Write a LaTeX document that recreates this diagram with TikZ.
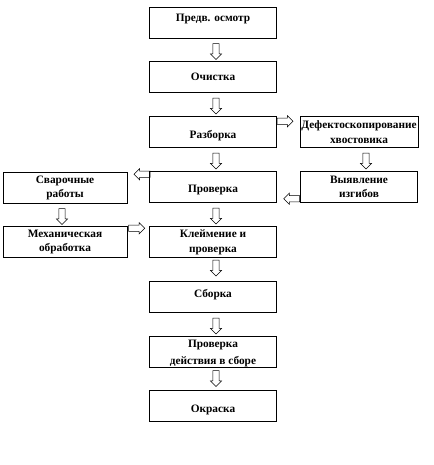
\documentclass[tikz,border=0pt]{standalone}
\usepackage{fontspec}
\setmainfont{Liberation Serif}
\usetikzlibrary{shapes.arrows,calc}

\newcommand{\nudge}[2]{\raisebox{#1}[\height][\depth]{#2}}

\tikzset{
  box/.style={draw, line width=0.6pt, minimum width=95pt, minimum height=23pt,
    inner sep=1pt, align=center, font=\bfseries\fontsize{8.5}{11}\selectfont},
  sidebox/.style={box, minimum width=93pt},
  harrow/.style={draw, single arrow, line width=0.4pt, inner sep=2.1pt,
    minimum height=12pt, single arrow head extend=1.9pt},
  rarrow/.style={harrow, anchor=tail},
  larrow/.style={harrow, rotate=180, anchor=tail},
  darrow/.style={harrow, rotate=-90}
}

\begin{document}
\begin{tikzpicture}[x=0.75pt, y=-0.75pt]
    \useasboundingbox (0,0) rectangle (433,465);
    % main column
    \node[box] (predv)  at (213,23)  {\nudge{3pt}{Предв. осмотр}};
    \node[box] (ochist) at (213,77)  {Очистка};
    \node[box] (razb)   at (213,132) {\nudge{-3pt}{Разборка}};
    \node[box] (prov)   at (213,187) {\nudge{-2pt}{Проверка}};
    \node[box] (kleim)  at (213,242) {Клеймение  и\\проверка};
    \node[box] (sborka) at (213,297) {\nudge{2pt}{Сборка}};
    \node[box] (prov2)  at (213,352) {Проверка\\\nudge{-2pt}{действия в сборе}};
    \node[box] (okras)  at (213,406) {\nudge{-3pt}{Окраска}};
    % side boxes
    \node[box, minimum width=88pt] (defekt) at (359,132) {Дефектоскопирование\\хвостовика};
    \node[box, minimum width=88pt] (vyyavl) at (359,187) {Выявление\\изгибов};
    \node[sidebox] (svarka) at (65,188) {Сварочные\\работы};
    \node[sidebox] (mekh)   at (65,242) {Механическая\\обработка};
    % arrows down
    \node[darrow] at ($(predv.south)!0.5!(ochist.north)+(3,0)$) {};
    \node[darrow] at ($(ochist.south)!0.5!(razb.north)+(3,0)$) {};
    \node[darrow] at ($(razb.south)!0.5!(prov.north)+(3,0)$) {};
    \node[darrow] at ($(prov.south)!0.5!(kleim.north)+(3,0)$) {};
    \node[darrow] at ($(kleim.south)!0.5!(sborka.north)+(3,-3)$) {};
    \node[darrow] at ($(sborka.south)!0.5!(prov2.north)+(3,0)$) {};
    \node[darrow] at ($(prov2.south)!0.5!(okras.north)+(3,-2)$) {};
    \node[darrow] at ($(defekt.south)!0.5!(vyyavl.north)+(7,0)$) {};
    \node[darrow] at ($(svarka.south)!0.5!(mekh.north)+(-3,0)$) {};
    % arrows to the side
    \node[rarrow] at ($(razb.north east)+(0,5)$) {};
    \node[larrow] at ($(prov.north west)+(1,3)$) {};
    \node[larrow] at ($(vyyavl.south west)+(0,-4)$) {};
    \node[rarrow] at ($(mekh.north east)+(1,2)$) {};
\end{tikzpicture}
\end{document}
